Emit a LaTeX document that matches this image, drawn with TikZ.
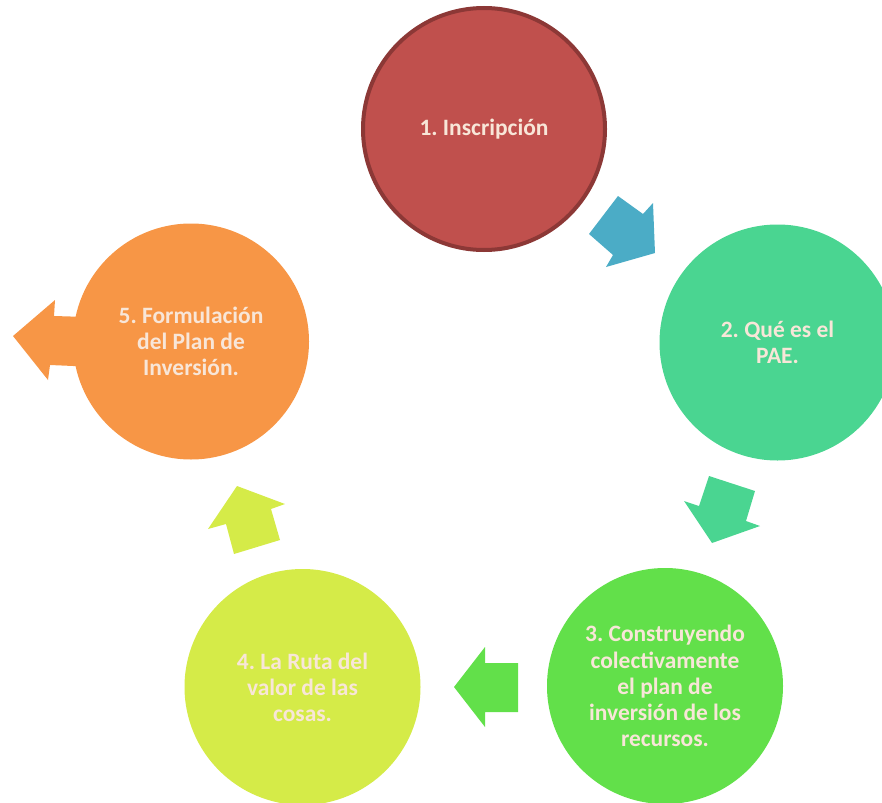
\documentclass[tikz,border=0pt]{standalone}
\usepackage{fontspec}
\setmainfont{Carlito}
\usepackage{tikz}
\usetikzlibrary{positioning}
\frenchspacing
\definecolor{pasred}{RGB}{192,80,77}
\definecolor{pasredborder}{RGB}{140,56,54}
\definecolor{pasteal}{RGB}{74,213,145}
\definecolor{pasgreen}{RGB}{98,224,74}
\definecolor{paslime}{RGB}{213,235,72}
\definecolor{pasorange}{RGB}{247,150,70}
\definecolor{pasblue}{RGB}{75,172,198}
\definecolor{pastext}{RGB}{248,230,216}
\tikzstyle{stage} = [circle, minimum size=177pt, inner sep=0pt, align=center, text=pastext, font=\fontsize{17.6}{19.6}\selectfont\bfseries]
\tikzstyle{blockarrow} = [draw=none]

\begin{document}
\begin{tikzpicture}[x=0.75pt, y=-0.75pt]
\useasboundingbox (0,0) rectangle (882,803);
\clip (0,0) rectangle (882,803);

% Arrow 5 (behind circle 5)
\fill[blockarrow, pasorange] (13,336) -- (55,300) -- (54,316) -- (120,318) -- (120,368) -- (50,365) -- (48,380) -- cycle;

% Inscripcion
\node (inscripcion) [stage, fill=pasred, draw=pasredborder, line width=3pt, minimum size=181.5pt] at (484,129) {1. Inscripción};

% PAE
\node (pae) [stage, fill=pasteal] at (777.5,342.5) {2. Qué es el\\PAE.};

% Construyendo
\node (construyendo) [stage, fill=pasgreen] at (665,686) {3. Construyendo\\colectivamente\\el plan de\\inversión de los\\recursos.};

% Ruta
\node (ruta) [stage, fill=paslime] at (302.5,687) {4. La Ruta del\\valor de las\\cosas.};

% Formulacion
\node (formulacion) [stage, fill=pasorange] at (191,341.5) {5. Formulación\\del Plan de\\Inversión.};

% Arrows
\fill[blockarrow, pasblue] (618,196) -- (643,214) -- (653,203) -- (655,253) -- (606,267) -- (613,255) -- (589,234) -- cycle;
\fill[blockarrow, pasteal] (709,476) -- (755,491) -- (746,521) -- (760,526) -- (712,543) -- (684,501) -- (699,506) -- cycle;
\fill[blockarrow, pasgreen] (454,687) -- (485,647) -- (485,663) -- (518,663) -- (518,712) -- (485,712) -- (485,727) -- cycle;
\fill[blockarrow, paslime] (237,486) -- (285,504) -- (271,509) -- (280,540) -- (234,554) -- (226,524) -- (208,529) -- cycle;
\end{tikzpicture}
\end{document}
